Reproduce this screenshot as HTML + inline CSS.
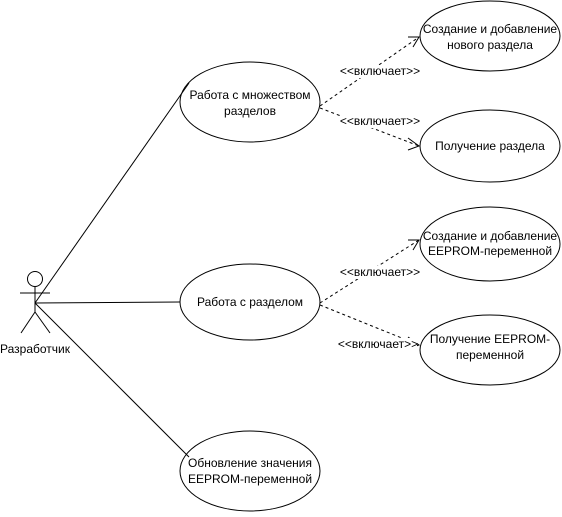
<!DOCTYPE html>
<html><head><meta charset="utf-8"><style>html,body{margin:0;padding:0;background:#fff}</style></head>
<body>
<svg width="562" height="512" viewBox="0 0 562 512" xmlns="http://www.w3.org/2000/svg" font-family="Liberation Sans, sans-serif" font-size="12">
<rect width="562" height="512" fill="#fff"/>
<g stroke="#000" fill="none" stroke-width="1">
<circle cx="35" cy="279" r="7.5"/>
<line x1="35" y1="286" x2="35" y2="312"/>
<line x1="20" y1="293" x2="50" y2="293"/>
<line x1="35" y1="312" x2="21" y2="333"/>
<line x1="35" y1="312" x2="50" y2="333"/>
<line x1="35" y1="303" x2="189" y2="83"/>
<line x1="35" y1="303" x2="180" y2="302"/>
<line x1="35" y1="303" x2="189" y2="457"/>
<ellipse cx="250" cy="102" rx="70" ry="40"/>
<ellipse cx="250" cy="302" rx="70" ry="38"/>
<ellipse cx="250" cy="471" rx="70" ry="40"/>
<ellipse cx="490" cy="36" rx="70" ry="35"/>
<ellipse cx="490" cy="146" rx="70" ry="36"/>
<ellipse cx="490" cy="244" rx="70" ry="37"/>
<ellipse cx="490" cy="350" rx="70" ry="35"/>
<g stroke-dasharray="3,3">
<line x1="320" y1="106" x2="419" y2="37"/>
<line x1="320" y1="108" x2="419" y2="146"/>
<line x1="320" y1="303" x2="419" y2="240"/>
<line x1="320" y1="305" x2="419" y2="345"/>
</g>
<polyline points="408,37 419,37 413,47"/>
<polyline points="408,138 419,146 408,150"/>
<polyline points="408,240 419,240 413,250"/>
<polyline points="408,337 419,345 408,349"/>
</g>
<g fill="#fff">
<rect x="341" y="65" width="78" height="13"/>
<rect x="341" y="115" width="78" height="13"/>
<rect x="341" y="266" width="78" height="13"/>
<rect x="339" y="338" width="78" height="13"/>
</g>
<g text-anchor="middle" fill="#000">
<text x="250" y="99">Работа с множеством</text>
<text x="250" y="115">разделов</text>
<text x="250" y="306">Работа с разделом</text>
<text x="250" y="467">Обновление значения</text>
<text x="250" y="483">EEPROM-переменной</text>
<text x="490" y="33">Создание и добавление</text>
<text x="490" y="49">нового раздела</text>
<text x="490" y="150">Получение раздела</text>
<text x="490" y="240">Создание и добавление</text>
<text x="490" y="255">EEPROM-переменной</text>
<text x="490" y="343">Получение EEPROM-</text>
<text x="490" y="359">переменной</text>
<text x="35" y="353">Разработчик</text>
<g font-size="12">
<text x="380" y="75">&lt;&lt;включает&gt;&gt;</text>
<text x="380" y="125">&lt;&lt;включает&gt;&gt;</text>
<text x="380" y="276">&lt;&lt;включает&gt;&gt;</text>
<text x="378" y="348">&lt;&lt;включает&gt;&gt;</text>
</g>
</g>
</svg>
</body></html>
